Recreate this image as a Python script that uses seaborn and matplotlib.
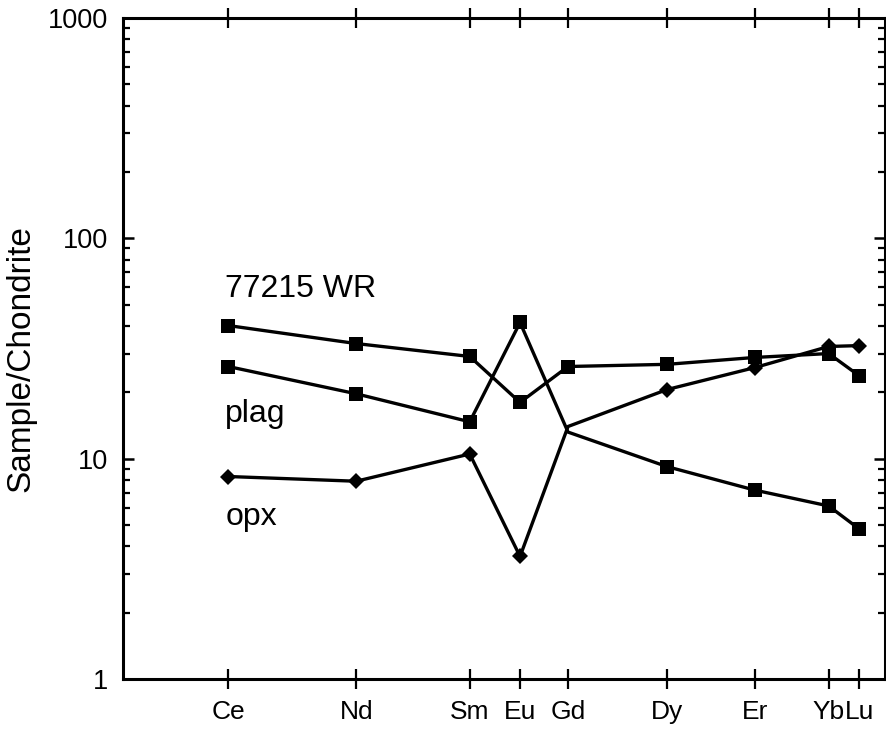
import pandas as pd
import seaborn as sns
import matplotlib.pyplot as plt
from matplotlib.ticker import LogLocator, NullFormatter

# ------------------------------------------------------------------------------------------------ #
# Chondrite-normalised REE, sample 77215 (whole rock, plagioclase, orthopyroxene)
ree = ["Ce", "Nd", "Sm", "Eu", "Gd", "Dy", "Er", "Yb", "Lu"]
ree_x = [13.8, 30.6, 45.5, 52.1, 58.4, 71.4, 82.9, 92.6, 96.6]

wr = [40.2, 33.3, 29.1, 18.0, 26.2, 26.8, 28.8, 30.0, 23.8]
plag = [26.2, 19.7, 14.7, 41.5, 13.2, 9.2, 7.2, 6.1, 4.8]
opx = [8.3, 7.9, 10.5, 3.6, 14.0, 20.6, 25.9, 32.3, 32.6]

y_ticks = [1, 10, 100, 1000]
y_ticklabels = ["1", "10", "100", "1000"]
# ------------------------------------------------------------------------------------------------ #

sns.set_style("ticks")
plt.rcParams["font.family"] = ["Liberation Sans", "DejaVu Sans"]
plt.rcParams.update({
    "text.color": "black",
    "axes.labelcolor": "black",
    "axes.edgecolor": "black",
    "xtick.color": "black",
    "ytick.color": "black",
})

df = pd.DataFrame({"ree": ree, "x": ree_x, "wr": wr, "plag": plag, "opx": opx})

fig = plt.figure(figsize=(8.87, 7.32), dpi=100)
ax = fig.add_axes([0.1387, 0.0724, 0.8591, 0.9030])

# markers at Gd are hidden for plag and opx (the lines just cross there)
no_gd = [i for i, r in enumerate(ree) if r != "Gd"]

sns.lineplot(data=df, x="x", y="wr", ax=ax, color="black", lw=2.4,
             marker="s", markersize=10, markeredgewidth=0)
sns.lineplot(data=df, x="x", y="plag", ax=ax, color="black", lw=2.4,
             marker="s", markersize=10, markeredgewidth=0, markevery=no_gd)
sns.lineplot(data=df, x="x", y="opx", ax=ax, color="black", lw=2.4,
             marker="D", markersize=8, markeredgewidth=0, markevery=no_gd)

ax.set_yscale("log")
ax.set_ylim(1, 1000)
ax.set_xlim(0, 100)

ax.set_yticks(y_ticks)
ax.set_yticklabels(y_ticklabels)
ax.yaxis.set_minor_locator(LogLocator(base=10, subs=range(2, 10)))
ax.yaxis.set_minor_formatter(NullFormatter())
ax.set_xticks(ree_x)
ax.set_xticklabels(ree)

ax.tick_params(axis="x", which="major", direction="inout", length=14, width=1.6,
               top=True, pad=8, labelsize=19)
ax.tick_params(axis="y", which="major", direction="in", length=8, width=1.8,
               right=True, pad=11, labelsize=19.5)
ax.tick_params(axis="y", which="minor", direction="in", length=5, width=1.6, right=True)

for side in ax.spines.values():
    side.set_linewidth(2.2)

ax.set_xlabel("")
ax.set_ylabel("Sample/Chondrite", fontsize=24)
ax.yaxis.set_label_coords(-0.113, 0.485)

ax.text(13.4, 53.9, "77215 WR", fontsize=23, va="baseline")
ax.text(13.4, 14.6, "plag", fontsize=23, va="baseline")
ax.text(13.4, 5.0, "opx", fontsize=23, va="baseline")

fig.savefig("out.png", dpi=100)
